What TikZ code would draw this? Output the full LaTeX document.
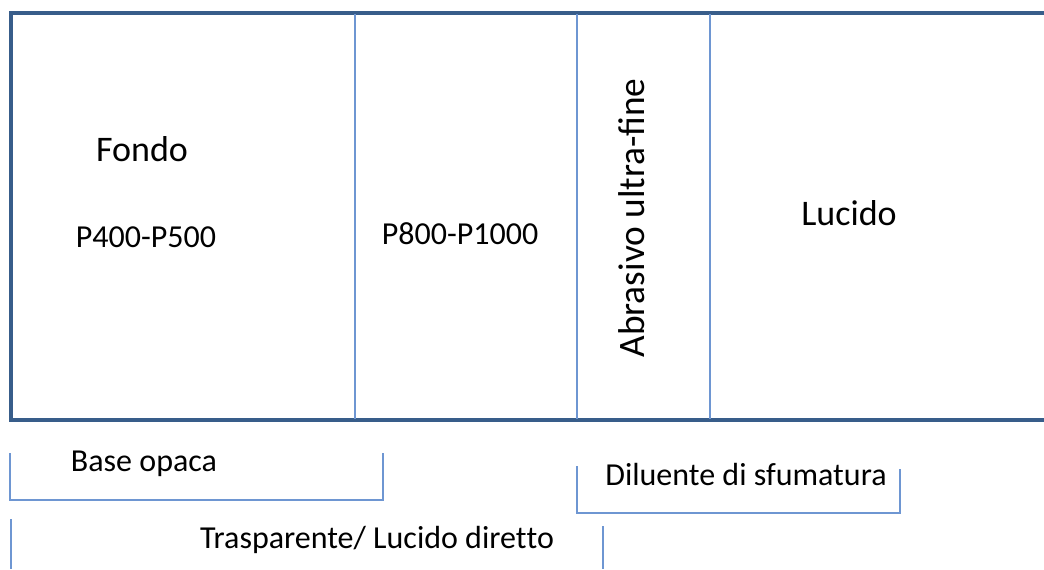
\documentclass[tikz,border=0pt]{standalone}
\usepackage{fontspec}
\setmainfont{Carlito}
\definecolor{framecol}{RGB}{56,93,138}
\definecolor{linecol}{RGB}{110,150,210}
\begin{document}
\begin{tikzpicture}[x=0.75pt,y=-0.75pt,
  frame/.style={draw=framecol,line width=3pt},
  divider/.style={draw=linecol,line width=1.3pt},
  bigtxt/.style={font=\fontsize{27}{32}\selectfont,inner sep=0pt},
  smalltxt/.style={font=\fontsize{24}{28}\selectfont,inner sep=0pt}]
  \useasboundingbox (0,0) rectangle (1044,569);

  % Frame and zones
  \draw[frame] (1044,13) -- (11,13) -- (11,420) -- (1044,420);
  \foreach \xx in {355,577,710}
    \draw[divider] (\xx,14) -- (\xx,419);

  % Zone labels
  \node[bigtxt] (fondo) at (142,149) {Fondo};
  \node[smalltxt] (grit1) at (146,237) {P400-P500};
  \node[smalltxt] (grit2) at (460,234) {P800-P1000};
  \node[bigtxt,rotate=90,font=\fontsize{28}{32}\selectfont] (ultra) at (632,218) {Abrasivo ultra-fine};
  \node[bigtxt] (lucido) at (849,213) {Lucido};

  % Brackets
  \draw[divider] (10,453) -- (10,500) -- (383,500) -- (383,453);
  \node[smalltxt] (base) at (144,464) {Base opaca};
  \draw[divider] (577,466) -- (577,513) -- (900,513) -- (900,469);
  \node[smalltxt] (diluente) at (746,474) {Diluente di sfumatura};
  \draw[divider] (11,519) -- (11,569);
  \draw[divider] (603,526) -- (603,569);
  \node[smalltxt] (diretto) at (377,540) {Trasparente/ Lucido diret\kern0pt to};
\end{tikzpicture}
\end{document}
